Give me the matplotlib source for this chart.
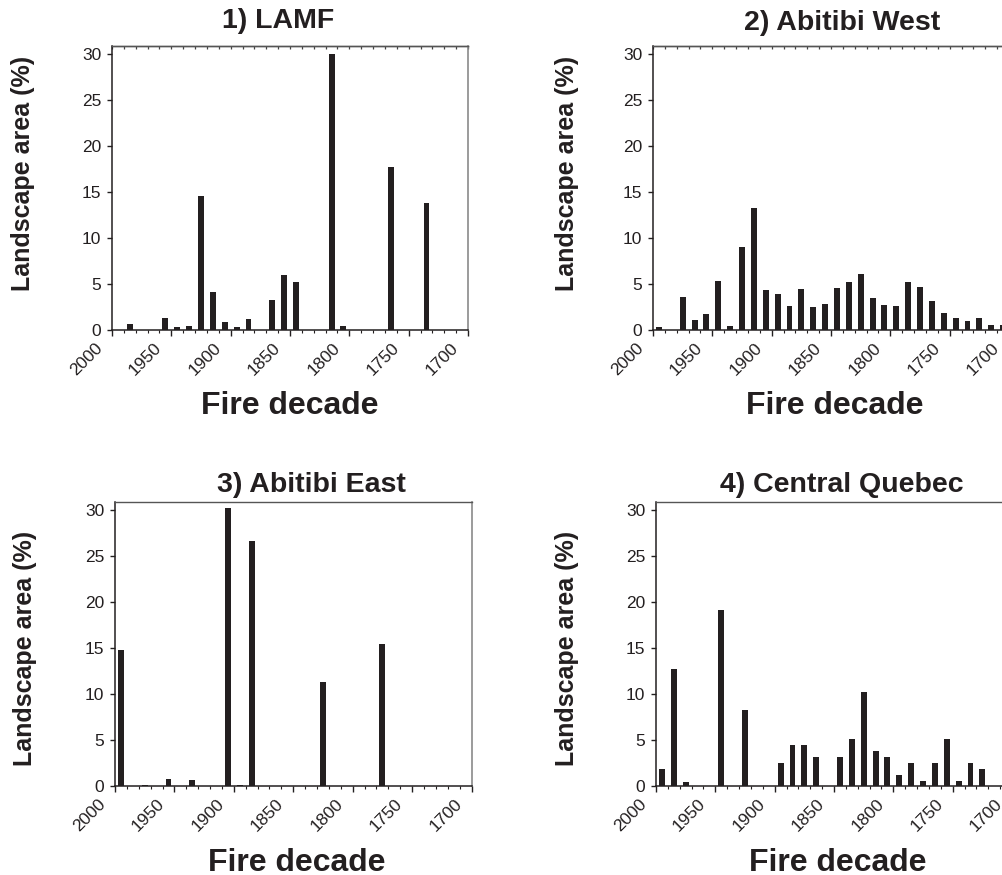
import matplotlib
matplotlib.use("Agg")
import matplotlib.pyplot as plt
from matplotlib.ticker import MultipleLocator, NullFormatter
from matplotlib.transforms import ScaledTranslation

plt.rcParams['font.family'] = ['Liberation Sans', 'DejaVu Sans']

# ---------------- data (decade start year -> % landscape area) ----------------
lamf_decades = [1980, 1950, 1940, 1930, 1920, 1910, 1900, 1890, 1880, 1860, 1850, 1840,
                1810, 1800, 1760, 1730]
lamf_values = [0.62, 1.3, 0.33, 0.47, 14.6, 4.15, 0.87, 0.33, 1.16, 3.3, 5.98, 5.19,
               30.0, 0.47, 17.77, 13.8]

abw_decades = [1990, 1970, 1960, 1950, 1940, 1930, 1920, 1910, 1900, 1890, 1880, 1870,
               1860, 1850, 1840, 1830, 1820, 1810, 1800, 1790, 1780, 1770, 1760, 1750,
               1740, 1730, 1720, 1710, 1700]
abw_values = [0.33, 3.55, 1.09, 1.74, 5.3, 0.47, 9.0, 13.24, 4.32, 3.88, 2.61, 4.43,
              2.54, 2.79, 4.53, 5.22, 6.13, 3.48, 2.76, 2.61, 5.19, 4.72, 3.12, 1.85,
              1.27, 0.94, 1.31, 0.51, 0.5]

abe_decades = [1990, 1970, 1950, 1930, 1920, 1900, 1890, 1880, 1820, 1770]
abe_values = [14.84, 0.1, 0.73, 0.62, 0.05, 30.2, 0.1, 26.7, 11.3, 15.4]

cq_decades = [1990, 1980, 1970, 1940, 1920, 1890, 1880, 1870, 1860, 1840, 1830, 1820,
              1810, 1800, 1790, 1780, 1770, 1760, 1750, 1740, 1730, 1720]
cq_values = [1.89, 12.71, 0.47, 19.1, 8.25, 2.5, 4.43, 4.43, 3.16, 3.16, 5.09, 10.2,
             3.78, 3.16, 1.23, 2.5, 0.58, 2.5, 5.09, 0.58, 2.5, 1.89]

titles = ["1) LAMF", "2) Abitibi West", "3) Abitibi East", "4) Central Quebec"]
year_ticks = [2000, 1950, 1900, 1850, 1800, 1750, 1700]
y_ticks = [0, 5, 10, 15, 20, 25, 30]
xlabel = "Fire decade"
ylabel = "Landscape area (%)"

# ---------------- figure ----------------
W, H = 1002, 875
DPI = 100
fig = plt.figure(figsize=(W / DPI, H / DPI), dpi=DPI)

BAR = '#231f20'
DARK = '#231f20'

def px_axes(left, top, right, bottom):
    return fig.add_axes([left / W, 1 - bottom / H, (right - left) / W, (bottom - top) / H])

panels = [
    dict(rect=(112, 46, 468, 330), d=lamf_decades, v=lamf_values, top_ticks=True, right=True,
         title_xy=(278, 28), xl_xy=(290, 414), yl_xy=(23, 173)),
    dict(rect=(653, 46, 1009, 330), d=abw_decades, v=abw_values, top_ticks=True, right=False,
         title_xy=(842, 30), xl_xy=(835, 414), yl_xy=(567, 173)),
    dict(rect=(115, 502, 471.5, 786), d=abe_decades, v=abe_values, top_ticks=False, right=True,
         title_xy=(311, 492), xl_xy=(297, 871), yl_xy=(25, 648)),
    dict(rect=(656, 502, 1012, 786), d=cq_decades, v=cq_values, top_ticks=False, right=False,
         title_xy=(842, 492), xl_xy=(838, 871), yl_xy=(567, 648)),
]

label_shift = ScaledTranslation(-12 / DPI, -10 / DPI, fig.dpi_scale_trans)

for p, title in zip(panels, titles):
    ax = px_axes(*p['rect'])
    centers = [d + 5 for d in p['d']]
    ax.bar(centers, p['v'], width=5, color=BAR, edgecolor='none', zorder=3)
    ax.set_xlim(2000, 1700)
    ax.set_ylim(0, 30.9)
    ax.xaxis.set_minor_locator(MultipleLocator(10))
    ax.set_xticks(year_ticks)
    ax.set_yticks(y_ticks)
    ax.tick_params(axis='x', which='major', direction='out', length=4, width=1,
                   color=DARK, pad=0, top=False)
    ax.tick_params(axis='x', which='minor', direction='out', length=2.5, width=0.8,
                   color=DARK, top=False)
    ax.tick_params(axis='y', which='major', direction='out', length=3.6, width=1,
                   color=DARK, pad=4)
    ax.set_yticklabels([str(y) for y in y_ticks], fontsize=12.5, color=DARK)
    ax.set_xticklabels([str(y) for y in year_ticks], rotation=45, ha='right', va='center',
                       rotation_mode='anchor', fontsize=12.5, color=DARK)
    for lab in ax.get_xticklabels():
        lab.set_transform(lab.get_transform() + label_shift)

    ax.spines['left'].set_color(DARK)
    ax.spines['bottom'].set_color(DARK)
    ax.spines['left'].set_linewidth(1.1)
    ax.spines['bottom'].set_linewidth(1.1)
    ax.spines['top'].set_color('#555555')
    ax.spines['top'].set_linewidth(1.0)
    ax.spines['right'].set_visible(p['right'])
    ax.spines['right'].set_color('#8a8a8a')
    ax.spines['right'].set_linewidth(1.2)

    if p['top_ticks']:
        sec = ax.secondary_xaxis('top')
        sec.xaxis.set_major_locator(MultipleLocator(10))
        sec.xaxis.set_major_formatter(NullFormatter())
        sec.tick_params(axis='x', which='major', direction='in', length=2.5, width=0.9,
                        color='#444444')
        sec.spines['top'].set_color('#555555')
        sec.spines['top'].set_linewidth(1.0)

    tx, ty = p['title_xy']
    fig.text(tx / W, 1 - ty / H, title, ha='center', va='baseline',
             fontsize=20.5, fontweight='bold', color=DARK)
    xx, xy = p['xl_xy']
    fig.text(xx / W, 1 - xy / H, xlabel, ha='center', va='baseline',
             fontsize=23, fontweight='bold', color=DARK)
    yx, yy = p['yl_xy']
    fig.text(yx / W, 1 - yy / H, ylabel, ha='center', va='center', rotation=90,
             fontsize=18, fontweight='bold', color=DARK)

fig.savefig("out.png", dpi=DPI)
